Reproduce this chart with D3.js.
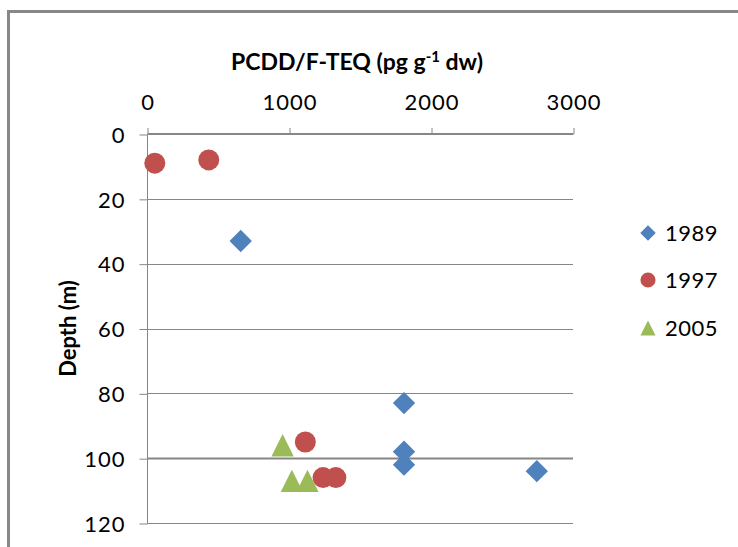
<!DOCTYPE html>
<html>
<head>
<meta charset="utf-8">
<script src="https://cdn.jsdelivr.net/npm/d3@7"></script>
<style>
  html, body { margin: 0; padding: 0; background: #fff; }
  svg { display: block; }
  text { font-family: Lato, "Open Sans", sans-serif; fill: #000; }
</style>
</head>
<body>
<svg id="chart" width="738" height="547"></svg>
<script>
// ---- data ----
const seriesNames = ["1989", "1997", "2005"];
const teq1989 = [660, 1810, 1810, 1810, 2745];
const depth1989 = [33, 83, 98, 102, 104];
const teq1997 = [55, 435, 1115, 1240, 1330];
const depth1997 = [9, 8, 95, 106, 106];
const teq2005 = [955, 1020, 1130];
const depth2005 = [96, 107, 107];
const xTicks = [0, 1000, 2000, 3000];
const yTicks = [0, 20, 40, 60, 80, 100, 120];
const xTitle = "PCDD/F-TEQ (pg g";
const yTitle = "Depth (m)";

// ---- layout ----
const W = 738, H = 547;
const pL = 147, pR = 573, pT = 134, pB = 523;
const colors = ["#4F81BD", "#C0504D", "#9BBB59"];
const gridColor = "#868686";

const svg = d3.select("#chart");
const x = d3.scaleLinear().domain([0, 3000]).range([pL, pR]);
const y = d3.scaleLinear().domain([0, 120]).range([pT, pB]);

// outer chart border
svg.append("rect")
  .attr("x", 8.5).attr("y", 11.5)
  .attr("width", W + 20).attr("height", H + 20)
  .attr("fill", "none").attr("stroke", "#888").attr("stroke-width", 3);

// horizontal gridlines
svg.append("g").selectAll("line").data(yTicks.filter(d => d !== 0)).join("line")
  .attr("x1", pL).attr("x2", pR)
  .attr("y1", d => Math.round(y(d)) + 0.5).attr("y2", d => Math.round(y(d)) + 0.5)
  .attr("stroke", gridColor)
  .attr("stroke-width", d => d === 100 ? 2 : 1);

// top x axis
const xAxis = d3.axisTop(x).tickValues(xTicks).tickSize(6).tickPadding(18).tickFormat(d3.format("d"));
const gx = svg.append("g").attr("transform", `translate(0.5,${Math.round(pT)})`).call(xAxis);
gx.select(".domain").attr("stroke", gridColor).attr("stroke-width", 2).attr("d", `M${pL},0H${pR}`);
gx.selectAll(".tick line").attr("stroke", gridColor);
gx.selectAll(".tick text").attr("font-size", 22).attr("font-family", "Lato").attr("letter-spacing", 1).attr("fill", "#000");

// left y axis
const yAxis = d3.axisLeft(y).tickValues(yTicks).tickSize(8).tickPadding(14).tickFormat(d3.format("d"));
const gy = svg.append("g").attr("transform", `translate(${pL + 0.5},0.5)`).call(yAxis);
gy.select(".domain").attr("stroke", gridColor).attr("d", `M0,${pT}V${pB}`);
gy.selectAll(".tick line").attr("stroke", gridColor);
gy.selectAll(".tick text").attr("font-size", 22).attr("font-family", "Lato").attr("letter-spacing", 1).attr("fill", "#000").attr("dy", "0.35em");

// axis titles
const tt = svg.append("text")
  .attr("x", 357).attr("y", 70)
  .attr("text-anchor", "middle")
  .attr("font-size", 23).attr("font-weight", "bold");
tt.append("tspan").text(xTitle);
tt.append("tspan").attr("dy", -8).attr("font-size", 15).text("-1");
tt.append("tspan").attr("dy", 8).text(" dw)");

svg.append("text")
  .attr("transform", `translate(76,${(pT + pB) / 2}) rotate(-90)`)
  .attr("text-anchor", "middle")
  .attr("font-size", 22).attr("font-weight", "bold")
  .text(yTitle);

// symbol types
const diamondType = {
  draw(ctx, size) {
    const r = Math.sqrt(size / 2);
    ctx.moveTo(0, -r); ctx.lineTo(r, 0); ctx.lineTo(0, r); ctx.lineTo(-r, 0); ctx.closePath();
  }
};
const triType = {
  draw(ctx, size) {
    const s = Math.sqrt(size);
    ctx.moveTo(0, -s / 2); ctx.lineTo(s / 2, s / 2); ctx.lineTo(-s / 2, s / 2); ctx.closePath();
  }
};
const types = [diamondType, d3.symbolCircle, triType];
const sizes = [250, 346, 500];
const legendSizes = [120, 180, 230];

const series = [
  { xs: teq1989, ys: depth1989 },
  { xs: teq1997, ys: depth1997 },
  { xs: teq2005, ys: depth2005 }
];

series.forEach((s, i) => {
  const pts = s.xs.map((v, j) => [v, s.ys[j]]);
  svg.append("g").selectAll("path").data(pts).join("path")
    .attr("transform", d => `translate(${x(d[0])},${y(d[1])})`)
    .attr("d", d3.symbol().type(types[i]).size(sizes[i])())
    .attr("fill", colors[i]);
});

// legend
const legY = [233, 280, 328];
const lg = svg.append("g");
seriesNames.forEach((name, i) => {
  lg.append("path")
    .attr("transform", `translate(648,${legY[i]})`)
    .attr("d", d3.symbol().type(types[i]).size(legendSizes[i])())
    .attr("fill", colors[i]);
  lg.append("text")
    .attr("x", 665).attr("y", legY[i]).attr("dy", "0.36em")
    .attr("font-size", 22).attr("letter-spacing", 0.5)
    .text(name);
});
</script>
</body>
</html>
